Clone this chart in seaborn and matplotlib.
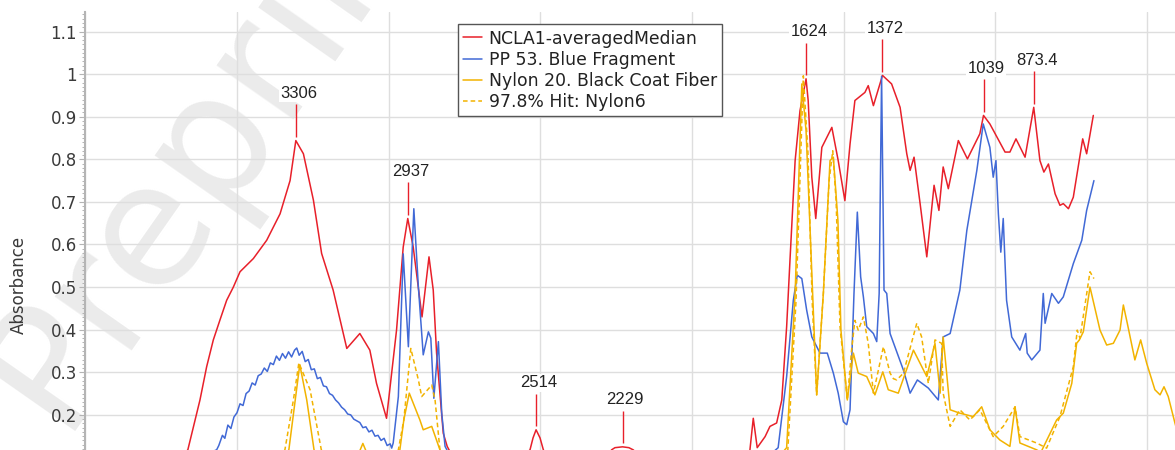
import numpy as np
import pandas as pd
import matplotlib
matplotlib.use("Agg")
import matplotlib.pyplot as plt
from matplotlib.ticker import MultipleLocator
import seaborn as sns

red_wn = [4000, 3750, 3662, 3622, 3600, 3578, 3556, 3534, 3512, 3490, 3446, 3402, 3358, 3325,
          3306, 3281, 3248, 3221, 3183, 3138, 3095, 3062, 3040, 3007, 2974, 2952, 2937, 2919,
          2890, 2867, 2853, 2842, 2820, 2807, 2780, 2700, 2600, 2534, 2524, 2514, 2501, 2490,
          2450, 2300, 2265, 2254, 2229, 2208, 2194, 2150, 2050, 1950, 1815, 1809, 1798, 1785,
          1759, 1743, 1721, 1704, 1688, 1677, 1660, 1644, 1624, 1617, 1605, 1592, 1572, 1539,
          1518, 1496, 1479, 1463, 1430, 1419, 1402, 1372, 1342, 1314, 1292, 1281, 1268, 1248,
          1226, 1202, 1186, 1172, 1155, 1122, 1092, 1051, 1039, 1018, 968, 952, 932, 902, 873.4,
          853, 840, 825, 803, 787, 776, 759, 743, 712, 699, 677]
red_abs = [0.03, 0.05, 0.118, 0.235, 0.313, 0.376, 0.423, 0.469, 0.500, 0.536, 0.567, 0.610,
           0.672, 0.750, 0.844, 0.813, 0.704, 0.579, 0.493, 0.356, 0.391, 0.352, 0.274, 0.192,
           0.399, 0.594, 0.661, 0.594, 0.430, 0.571, 0.493, 0.345, 0.157, 0.126, 0.09, 0.06,
           0.07, 0.118, 0.146, 0.165, 0.146, 0.118, 0.07, 0.08, 0.118, 0.123, 0.125, 0.123,
           0.118, 0.09, 0.08, 0.07, 0.09, 0.118, 0.192, 0.123, 0.149, 0.173, 0.181, 0.235,
           0.407, 0.563, 0.797, 0.914, 0.989, 0.938, 0.758, 0.661, 0.828, 0.875, 0.797, 0.703,
           0.836, 0.938, 0.957, 0.973, 0.926, 0.997, 0.977, 0.922, 0.813, 0.774, 0.805, 0.696,
           0.571, 0.739, 0.680, 0.782, 0.731, 0.844, 0.801, 0.860, 0.903, 0.883, 0.817, 0.817,
           0.848, 0.805, 0.922, 0.797, 0.770, 0.789, 0.719, 0.692, 0.696, 0.684, 0.711, 0.848,
           0.813, 0.903]

blue_wn = [4000, 3720, 3567, 3560, 3548, 3540, 3530, 3520, 3510, 3500, 3490, 3480, 3470, 3460,
           3450, 3440, 3430, 3420, 3410, 3400, 3390, 3380, 3370, 3360, 3350, 3340, 3330, 3320,
           3310, 3303, 3295, 3285, 3275, 3265, 3255, 3245, 3235, 3225, 3215, 3205, 3195, 3185,
           3175, 3165, 3155, 3145, 3135, 3125, 3115, 3105, 3095, 3085, 3075, 3065, 3055, 3045,
           3035, 3025, 3015, 3005, 2995, 2990, 2985, 2968, 2952, 2935, 2917, 2902, 2886, 2869,
           2861, 2851, 2836, 2825, 2814, 2780, 2000, 1800, 1716, 1688, 1666, 1653, 1638, 1622,
           1605, 1578, 1554, 1534, 1518, 1501, 1490, 1479, 1466, 1455, 1444, 1435, 1424, 1402,
           1391, 1383, 1375, 1367, 1358, 1347, 1331, 1303, 1281, 1257, 1221, 1188, 1172, 1149,
           1117, 1094, 1061, 1040, 1018, 1007, 998, 990, 982, 974, 963, 946, 919, 900, 895, 880,
           853, 842, 836, 814, 792, 776, 743, 715, 699, 675]
blue_abs = [0.03, 0.07, 0.118, 0.128, 0.152, 0.145, 0.176, 0.168, 0.195, 0.205, 0.226, 0.222,
            0.250, 0.256, 0.275, 0.270, 0.292, 0.296, 0.310, 0.302, 0.322, 0.318, 0.338, 0.328,
            0.344, 0.333, 0.348, 0.336, 0.352, 0.357, 0.340, 0.349, 0.325, 0.330, 0.306, 0.308,
            0.285, 0.288, 0.268, 0.266, 0.250, 0.246, 0.235, 0.228, 0.218, 0.212, 0.202, 0.200,
            0.190, 0.186, 0.182, 0.170, 0.172, 0.160, 0.164, 0.150, 0.152, 0.140, 0.145, 0.128,
            0.132, 0.122, 0.134, 0.243, 0.578, 0.360, 0.684, 0.500, 0.341, 0.395, 0.380, 0.239,
            0.372, 0.204, 0.126, 0.08, 0.06, 0.07, 0.123, 0.290, 0.469, 0.528, 0.520, 0.446,
            0.383, 0.345, 0.345, 0.298, 0.251, 0.184, 0.177, 0.212, 0.485, 0.676, 0.524, 0.477,
            0.407, 0.391, 0.372, 0.485, 0.995, 0.493, 0.485, 0.391, 0.360, 0.305, 0.251, 0.282,
            0.263, 0.235, 0.383, 0.391, 0.493, 0.633, 0.774, 0.883, 0.828, 0.758, 0.797, 0.672,
            0.582, 0.661, 0.469, 0.383, 0.352, 0.391, 0.345, 0.329, 0.352, 0.485, 0.415, 0.485,
            0.462, 0.477, 0.555, 0.610, 0.680, 0.750]

nylon_wn = [4000, 3400, 3329, 3293, 3270, 3246, 3200, 3110, 3085, 3060, 3000, 2963, 2950, 2932,
            2897, 2886, 2858, 2831, 2780, 2000, 1800, 1688, 1660, 1638, 1624, 1611, 1589, 1567,
            1545, 1534, 1519, 1509, 1488, 1468, 1452, 1424, 1397, 1371, 1353, 1320, 1270, 1226,
            1199, 1182, 1172, 1149, 1117, 1073, 1045, 1018, 985, 952, 935, 919, 864, 850, 798,
            776, 748, 732, 723, 710, 688, 655, 633, 611, 589, 578, 565, 540, 521, 501, 474, 457,
            444, 430, 408, 400]
nylon_abs = [0.02, 0.05, 0.118, 0.318, 0.235, 0.118, 0.07, 0.09, 0.133, 0.09, 0.07, 0.118,
             0.188, 0.251, 0.188, 0.165, 0.173, 0.118, 0.05, 0.04, 0.03, 0.123, 0.486, 0.977,
             0.867, 0.641, 0.247, 0.485, 0.797, 0.805, 0.657, 0.399, 0.235, 0.345, 0.298, 0.290,
             0.247, 0.301, 0.259, 0.251, 0.352, 0.290, 0.368, 0.251, 0.383, 0.212, 0.204, 0.196,
             0.219, 0.165, 0.141, 0.126, 0.219, 0.134, 0.118, 0.112, 0.188, 0.204, 0.274, 0.368,
             0.376, 0.395, 0.500, 0.399, 0.364, 0.368, 0.399, 0.458, 0.415, 0.329, 0.376, 0.321,
             0.259, 0.247, 0.266, 0.243, 0.181, 0.16]

hit_wn = [4000, 3400, 3342, 3314, 3296, 3259, 3222, 3150, 3000, 2968, 2950, 2927, 2902, 2891,
          2858, 2847, 2831, 2780, 2000, 1800, 1684, 1657, 1633, 1618, 1604, 1589, 1567, 1548,
          1536, 1525, 1512, 1488, 1474, 1463, 1452, 1435, 1419, 1402, 1369, 1347, 1336, 1325,
          1303, 1259, 1243, 1221, 1199, 1177, 1172, 1149, 1117, 1084, 1051, 1007, 974, 935, 919,
          864, 831, 787, 743, 730, 721, 688, 675]
hit_abs = [0.02, 0.05, 0.118, 0.235, 0.322, 0.259, 0.118, 0.06, 0.07, 0.118, 0.188, 0.356,
           0.282, 0.243, 0.270, 0.235, 0.118, 0.05, 0.04, 0.03, 0.118, 0.469, 0.996, 0.820, 0.469,
           0.247, 0.485, 0.750, 0.820, 0.703, 0.407, 0.235, 0.352, 0.422, 0.399, 0.430, 0.368,
           0.251, 0.360, 0.298, 0.285, 0.282, 0.298, 0.415, 0.383, 0.274, 0.376, 0.368, 0.251,
           0.173, 0.212, 0.188, 0.212, 0.149, 0.173, 0.219, 0.149, 0.134, 0.122, 0.196, 0.313,
           0.399, 0.380, 0.536, 0.520]

series_names = ["NCLA1-averagedMedian", "PP 53. Blue Fragment",
                "Nylon 20. Black Coat Fiber", "97.8% Hit: Nylon6"]

peak_wn = [3306, 2937, 2514, 2229, 1624, 1372, 1039, 873.4]
peak_labels = ["3306", "2937", "2514", "2229", "1624", "1372", "1039", "873.4"]

y_ticks = [0.2, 0.3, 0.4, 0.5, 0.6, 0.7, 0.8, 0.9, 1.0, 1.1]
y_tick_labels = ["0.2", "0.3", "0.4", "0.5", "0.6", "0.7", "0.8", "0.9", "1", "1.1"]
x_ticks = [4000, 3500, 3000, 2500, 2000, 1500, 1000, 500]

# --- estilo ---
RED = "#e8202a"
BLUE = "#4169d6"
GOLD = "#f2b300"

sns.set_theme(style="whitegrid")
plt.rcParams['font.family'] = ['DejaVu Sans']

fig = plt.figure(figsize=(11.75, 4.5), dpi=100)
# o grafico original esta recortado: o eixo x fica abaixo da imagem
ax = fig.add_axes([0.0726, -0.24, 0.9294, 1.21444])

ax.text(0.050, 0.042, "Preprint", transform=fig.transFigure, rotation=55,
        rotation_mode='anchor', ha='left', va='baseline', fontsize=124,
        color='#ebebeb', zorder=0.1)

series = [
    (red_wn, red_abs, RED, '-'),
    (blue_wn, blue_abs, BLUE, '-'),
    (nylon_wn, nylon_abs, GOLD, '-'),
    (hit_wn, hit_abs, GOLD, (0, (3, 2))),
]
for name, (wn, ab, color, ls) in zip(series_names, series):
    df = pd.DataFrame({"wn": wn, "abs": ab})
    sns.lineplot(data=df, x="wn", y="abs", ax=ax, color=color, linestyle=ls,
                 linewidth=1.1, sort=False, estimator=None, label=name)

# marcacao dos picos do espectro vermelho
red_inc_w = np.array(red_wn)[::-1]
red_inc_a = np.array(red_abs)[::-1]
peak_abs = np.interp(peak_wn, red_inc_w, red_inc_a)
ax.vlines(peak_wn, peak_abs + 0.008, peak_abs + 0.085, color=RED, linewidth=1.0, zorder=3)
for w, a, lab in zip(peak_wn, peak_abs, peak_labels):
    ax.annotate(lab, xy=(w, a + 0.1), xytext=(2, 0), textcoords='offset points',
                ha='center', va='baseline', fontsize=12, family='Liberation Sans',
                color='#222222', zorder=4,
                bbox=dict(facecolor='white', edgecolor='none', pad=1.0))

ax.set_xlim(4000, 400)
ax.set_ylim(-0.136, 1.147)
ax.set_xticks(x_ticks)
ax.set_yticks(y_ticks)
ax.set_yticklabels(y_tick_labels)
ax.yaxis.set_minor_locator(MultipleLocator(0.01))
ax.set_axisbelow(True)
ax.grid(True, which='major', color='#dedede', linewidth=1.0)
ax.grid(False, which='minor')
ax.tick_params(axis='y', which='major', left=True, length=4, width=0.8,
               color='#b4b4b4', labelsize=12, labelcolor='#3a3a3a', pad=2)
ax.tick_params(axis='y', which='minor', left=True, length=2.5, width=0.7, color='#b4b4b4')
ax.tick_params(axis='x', labelbottom=False)
ax.set_xlabel("")
ax.set_ylabel("Absorbance", fontsize=12, color='#3a3a3a', labelpad=16)

for side in ['top', 'right', 'bottom']:
    ax.spines[side].set_visible(False)
ax.spines['left'].set_color('#b4b4b4')
ax.spines['left'].set_linewidth(1.5)

leg = ax.legend(loc='upper left', bbox_to_anchor=(0.341, 0.9765), frameon=True,
                fancybox=False, edgecolor='#555555', framealpha=1, fontsize=12.4,
                handlelength=1.1, handletextpad=0.4, labelspacing=0.18,
                borderpad=0.3, borderaxespad=0)
leg.get_frame().set_linewidth(1.0)
for t in leg.get_texts():
    t.set_color('#222222')

fig.savefig("out.png", dpi=100)
